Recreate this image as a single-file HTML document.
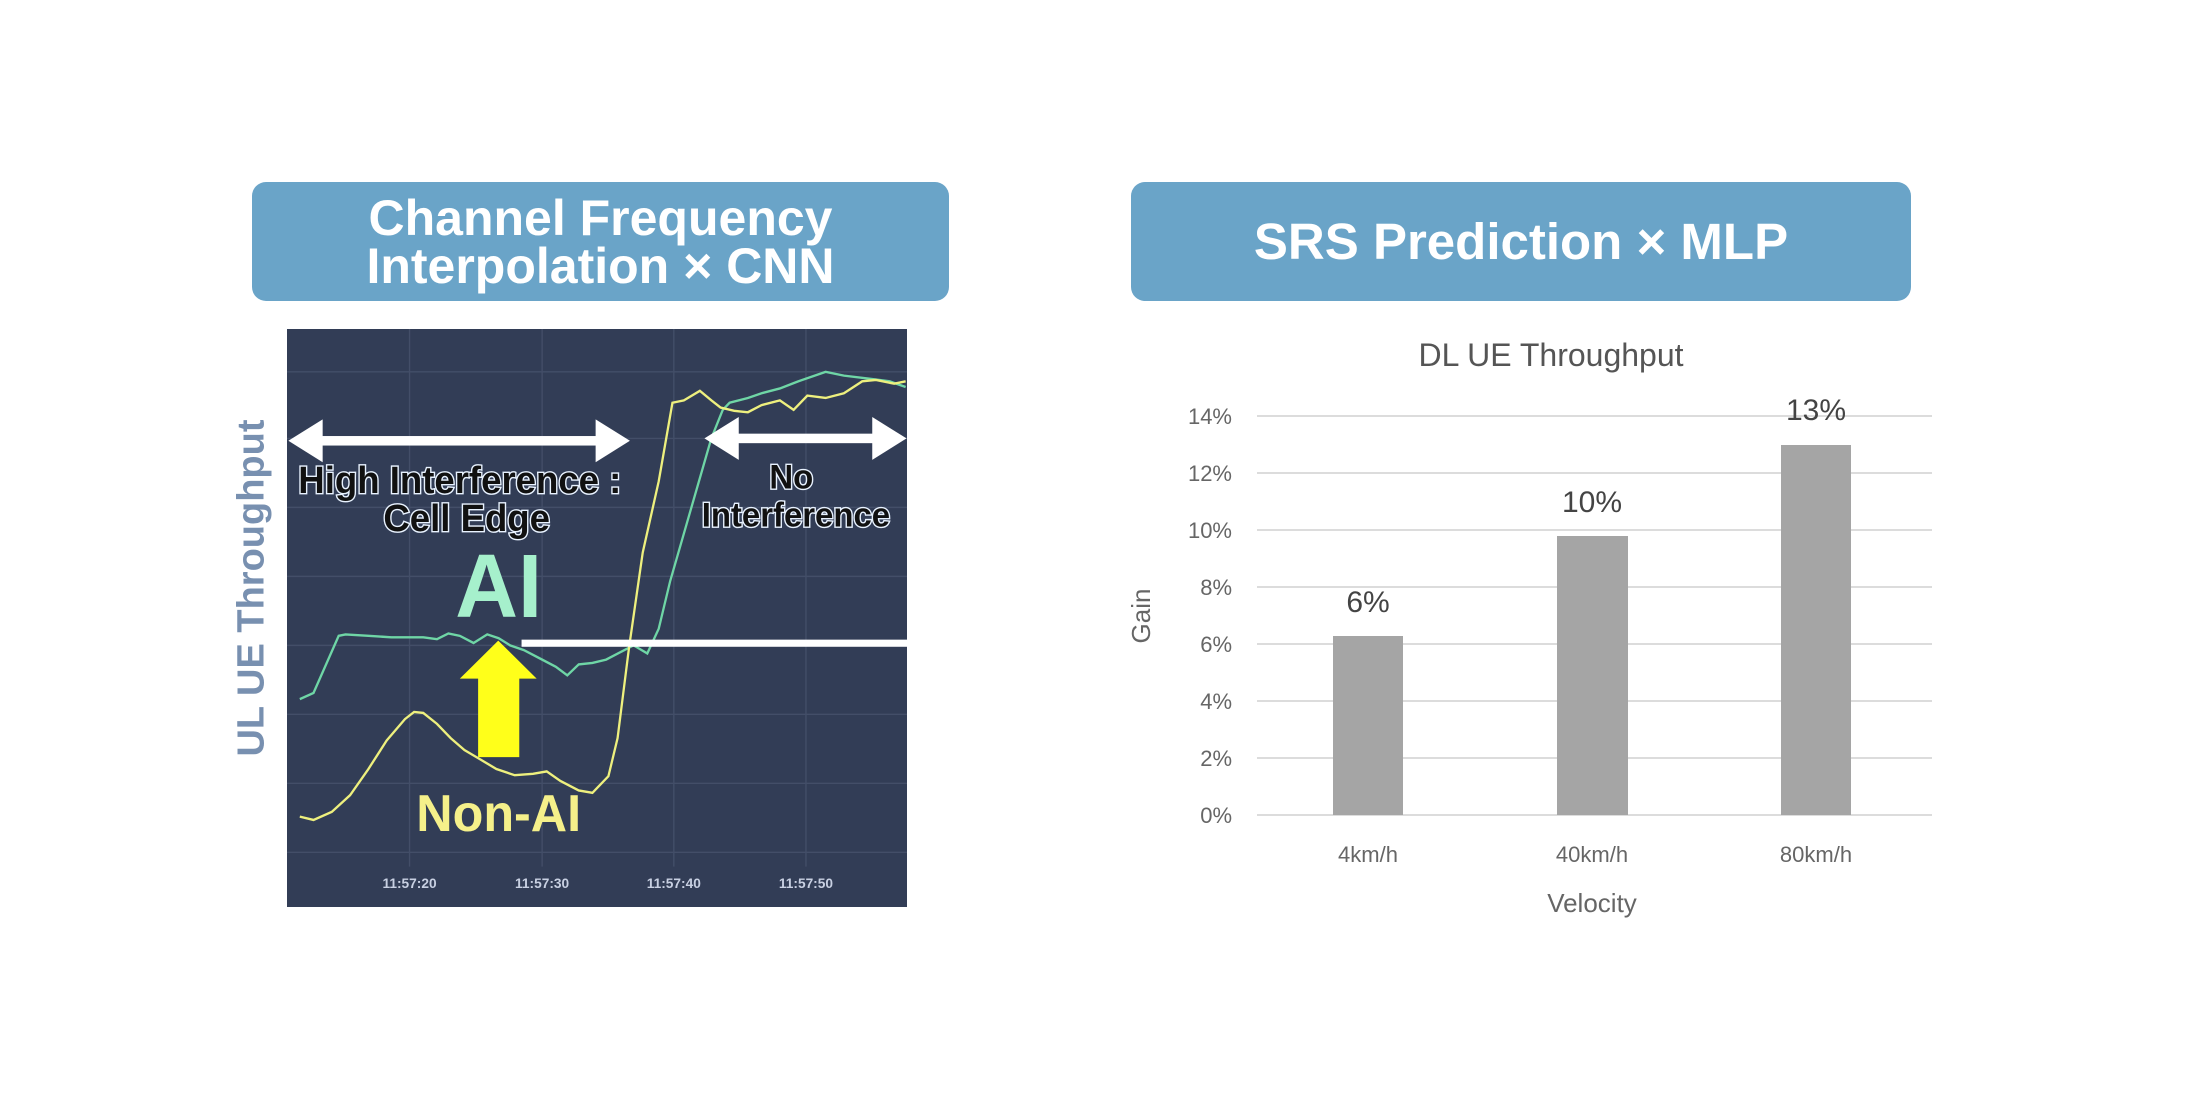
<!DOCTYPE html>
<html><head><meta charset="utf-8"><style>
html,body{margin:0;padding:0;background:#fff;}
body{width:2195px;height:1097px;position:relative;overflow:hidden;font-family:"Liberation Sans",sans-serif;}
.hdr{position:absolute;background:#6aa4c8;border-radius:14px;color:#fff;font-weight:bold;text-align:center;display:flex;align-items:center;justify-content:center;flex-direction:column;}
</style></head><body>
<div class="hdr" style="left:252px;top:182px;width:697px;height:119px;font-size:50px;line-height:48px;">Channel Frequency<br>Interpolation × CNN</div>
<div class="hdr" style="left:1131px;top:182px;width:780px;height:119px;font-size:51px;">SRS Prediction × MLP</div>

<div style="position:absolute;left:252px;top:588px;transform:translate(-50%,-50%) rotate(-90deg);white-space:nowrap;font-weight:bold;font-size:38px;color:#7890b0;">UL UE Throughput</div>

<svg style="position:absolute;left:287px;top:329px" width="620" height="578" viewBox="122 330 1356 1215" preserveAspectRatio="none">
<rect x="122" y="330" width="1356" height="1215" fill="#323d56"/>
<g stroke="#434e68" stroke-width="3">
<line x1="122" y1="420" x2="1478" y2="420"/><line x1="122" y1="560" x2="1478" y2="560"/><line x1="122" y1="705" x2="1478" y2="705"/><line x1="122" y1="850" x2="1478" y2="850"/><line x1="122" y1="995" x2="1478" y2="995"/><line x1="122" y1="1140" x2="1478" y2="1140"/><line x1="122" y1="1285" x2="1478" y2="1285"/><line x1="122" y1="1430" x2="1478" y2="1430"/>
<line x1="390" y1="330" x2="390" y2="1460"/><line x1="680" y1="330" x2="680" y2="1460"/><line x1="968" y1="330" x2="968" y2="1460"/><line x1="1257" y1="330" x2="1257" y2="1460"/>
</g>
<g fill="#c8d0e2" font-size="30" font-weight="bold" text-anchor="middle"><text x="390" y="1505">11:57:20</text><text x="680" y="1505">11:57:30</text><text x="968" y="1505">11:57:40</text><text x="1257" y="1505">11:57:50</text></g>
<polyline fill="none" stroke="#6fd6a6" stroke-width="5" points="150,1108 180,1095 235,975 250,972 300,975 350,978 420,978 450,982 475,970 500,975 530,990 560,972 585,980 610,995 640,1005 680,1025 710,1040 735,1058 760,1035 790,1032 820,1025 850,1010 880,995 910,1012 935,960 960,860 990,760 1020,660 1050,560 1075,500 1090,485 1130,475 1160,465 1200,455 1240,440 1300,420 1340,428 1400,435 1440,440 1475,452"/>
<polyline fill="none" stroke="#eef07e" stroke-width="5" points="150,1355 180,1362 220,1345 260,1310 300,1255 340,1195 380,1150 400,1135 420,1137 450,1160 480,1190 510,1215 540,1232 580,1255 620,1268 660,1265 690,1260 720,1280 760,1300 790,1305 825,1270 845,1190 870,1000 900,800 935,650 965,485 990,480 1025,460 1050,480 1070,495 1100,502 1130,505 1160,490 1200,480 1230,500 1260,470 1300,475 1340,465 1380,440 1410,437 1450,445 1475,440"/>
<rect x="635" y="983" width="843" height="15" fill="#fff"/>
<g fill="#fff">
<rect x="190" y="555" width="620" height="20"/><polygon points="125,565 200,520 200,610"/><polygon points="872,565 797,520 797,610"/>
<rect x="1100" y="550" width="310" height="20"/><polygon points="1035,560 1110,515 1110,605"/><polygon points="1477,560 1402,515 1402,605"/>
</g>
<g font-size="80" font-weight="bold" text-anchor="middle" fill="#111" stroke="#e8f2ff" stroke-width="6" paint-order="stroke">
<text x="500" y="675">High Interference :</text><text x="515" y="755">Cell Edge</text>
</g>
<g font-size="72" font-weight="bold" text-anchor="middle" fill="#111" stroke="#e8f2ff" stroke-width="6" paint-order="stroke">
<text x="1225" y="665">No</text><text x="1235" y="745">Interference</text>
</g>
<text x="585" y="935" font-size="190" font-weight="bold" fill="#a6f0cc" text-anchor="middle">AI</text>
<polygon points="540,1230 630,1230 630,1065 668,1065 584,985 500,1065 540,1065" fill="#ffff1a"/>
<text x="585" y="1385" font-size="110" font-weight="bold" fill="#f5f08a" text-anchor="middle">Non-AI</text>
</svg>

<svg style="position:absolute;left:1120px;top:320px" width="830" height="620" viewBox="1120 320 830 620">
<text x="1551" y="366" font-size="32" fill="#555" text-anchor="middle">DL UE Throughput</text>
<g stroke="#dcdcdc" stroke-width="2">
<line x1="1257" y1="416" x2="1932" y2="416"/><line x1="1257" y1="473" x2="1932" y2="473"/><line x1="1257" y1="530" x2="1932" y2="530"/><line x1="1257" y1="587" x2="1932" y2="587"/><line x1="1257" y1="644" x2="1932" y2="644"/><line x1="1257" y1="701" x2="1932" y2="701"/><line x1="1257" y1="758" x2="1932" y2="758"/><line x1="1257" y1="815" x2="1932" y2="815"/>
</g>
<g font-size="22" fill="#666" text-anchor="end">
<text x="1232" y="424">14%</text><text x="1232" y="481">12%</text><text x="1232" y="538">10%</text><text x="1232" y="595">8%</text><text x="1232" y="652">6%</text><text x="1232" y="709">4%</text><text x="1232" y="766">2%</text><text x="1232" y="823">0%</text>
</g>
<g fill="#a5a5a5">
<rect x="1333" y="636" width="70" height="179"/>
<rect x="1557" y="536" width="71" height="279"/>
<rect x="1781" y="445" width="70" height="370"/>
</g>
<g font-size="30" fill="#444" text-anchor="middle">
<text x="1368" y="612">6%</text><text x="1592" y="512">10%</text><text x="1816" y="420">13%</text>
</g>
<g font-size="22" fill="#666" text-anchor="middle">
<text x="1368" y="862">4km/h</text><text x="1592" y="862">40km/h</text><text x="1816" y="862">80km/h</text>
</g>
<text x="1592" y="912" font-size="26" fill="#666" text-anchor="middle">Velocity</text>
<text x="0" y="0" font-size="26" fill="#666" text-anchor="middle" transform="translate(1150,616) rotate(-90)">Gain</text>
</svg>
</body></html>
